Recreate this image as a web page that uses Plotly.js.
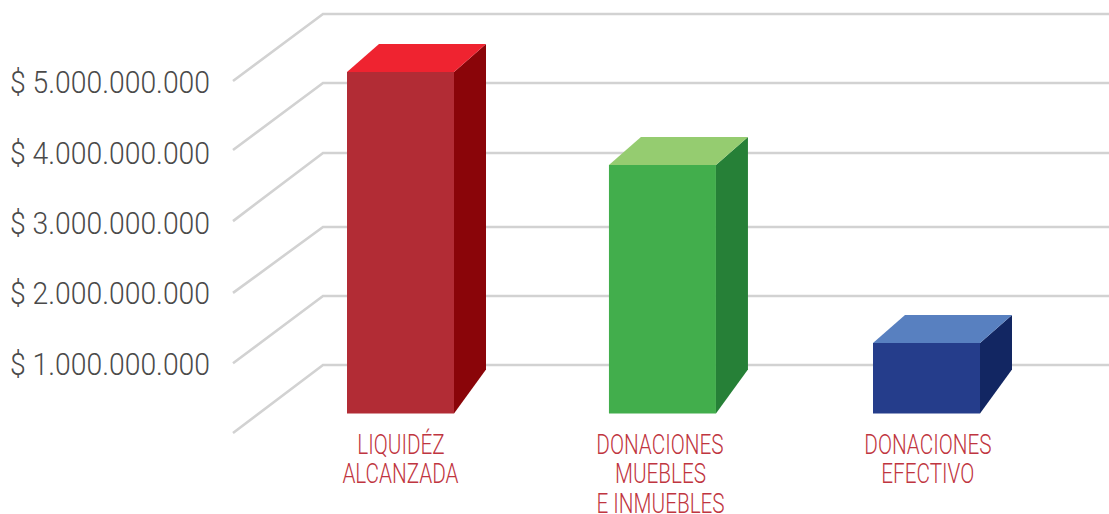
<!DOCTYPE html>
<html><head><meta charset="utf-8">
<script src="https://cdn.plot.ly/plotly-3.0.1.min.js"></script>
<style>html,body{margin:0;padding:0;background:#fff}#c{width:1109px;height:514px}</style>
</head><body><div id="c"></div>
<script>
var categoryLines = [["LIQUIDÉZ","ALCANZADA"],["DONACIONES","MUEBLES","E INMUEBLES"],["DONACIONES","EFECTIVO"]];
var barValues = [4.85e9, 3.53e9, 1.0e9];
var barPositions = [0, 0.996, 2];
var labelPositions = [0, 0.987, 2.006];
var tickValues = [1e9, 2e9, 3e9, 4e9, 5e9];
var tickLabels = ["$ 1.000.000.000","$ 2.000.000.000","$ 3.000.000.000","$ 4.000.000.000","$ 5.000.000.000"];
var gridFront = [0, 0.99e9, 1.99e9, 3.01e9, 4.02e9, 5.0e9];
var gridBack  = [0.966e9, 1.946e9, 2.926e9, 3.977e9, 4.972e9, 5.952e9];
var frontColors = ["#b22c35","#42ae4c","#253d8b"];
var sideColors  = ["#8a0509","#268037","#122662"];
var topColors   = ["#ef2330","#95cc70","#5880c0"];

var W=1109,H=514,L=211;
var PXX=263, X0=400.5, PXY=70.4/1e9, Y0=433;
var xr=[(L-X0)/PXX,(W-X0)/PXX], yr=[(Y0-H)/PXY,Y0/PXY];
var barW=107/PXX, depthX=32/PXX, depthTop=28/PXY, depthBase=44/PXY, base=19.6/PXY;
var gridDepth=90/PXX, gridLeft=(233-X0)/PXX;

var traces=[{type:'bar',x:barPositions,y:barValues,base:barValues.map(function(){return base}),width:barW,
  marker:{color:frontColors,line:{width:0}},hoverinfo:'skip',showlegend:false}];
barPositions.forEach(function(p,i){
  var r=p+barW/2,l=p-barW/2,t=base+barValues[i];
  traces.push({type:'scatter',mode:'lines',fill:'toself',fillcolor:sideColors[i],line:{width:0,color:sideColors[i]},
    x:[r,r+depthX,r+depthX,r,r],y:[base,base+depthBase,t+depthTop,t,base],hoverinfo:'skip',showlegend:false});
  traces.push({type:'scatter',mode:'lines',fill:'toself',fillcolor:topColors[i],line:{width:0,color:topColors[i]},
    x:[l,l+depthX,r+depthX,r,l],y:[t,t+depthTop,t+depthTop,t,t],hoverinfo:'skip',showlegend:false});
});
traces.push({type:'scatter',mode:'markers',cliponaxis:false,x:[(90-X0)/PXX,(91-X0)/PXX],y:[(Y0-13.5)/PXY,(Y0-35)/PXY],
  marker:{color:'#b32d36',size:6},hoverinfo:'skip',showlegend:false});

var shapes=gridFront.map(function(v,i){
  var xb=gridLeft+gridDepth;
  return {type:'path',xref:'x',yref:'y',layer:'below',line:{color:'#d2d2d2',width:2.6},
    path:'M '+gridLeft+','+v+' L '+xb+','+gridBack[i]+' L '+xr[1]+','+gridBack[i]};
});

var annotations=[];
var lineTop=444, lineStep=29.5;
var fontFamily='Roboto, "Liberation Sans", sans-serif';
categoryLines.forEach(function(lines,i){
  lines.forEach(function(s,j){
    annotations.push({xref:'x',yref:'y',x:labelPositions[i],y:(Y0-(lineTop+j*lineStep))/PXY,text:s,showarrow:false,
      xanchor:'center',yanchor:'middle',font:{family:fontFamily,weight:300,size:28,color:'#bf3540'}});
  });
});

Plotly.newPlot('c',traces,{
  width:W,height:H,margin:{l:L,r:0,t:0,b:0,pad:0},paper_bgcolor:'#fff',plot_bgcolor:'#fff',showlegend:false,
  xaxis:{range:xr,showgrid:false,zeroline:false,showticklabels:false,showline:false,ticks:''},
  yaxis:{range:yr,showgrid:false,zeroline:false,showline:false,ticks:'',tickmode:'array',tickvals:tickValues,ticktext:tickLabels,
    tickfont:{family:fontFamily,weight:300,size:32,color:'#4a4a4a'}},
  shapes:shapes,annotations:annotations
},{displayModeBar:false,staticPlot:true}).then(function(gd){
  // condensed look: squeeze the real text horizontally
  gd.querySelectorAll('.ytick text').forEach(function(t){
    t.setAttribute('lengthAdjust','spacingAndGlyphs');
    t.setAttribute('textLength','200');
    t.setAttribute('dy','1');
  });
  gd.querySelectorAll('.annotation-text').forEach(function(t){
    var n=t.getComputedTextLength();
    t.setAttribute('lengthAdjust','spacingAndGlyphs');
    t.setAttribute('textLength',String(n*0.74));
  });
});
</script></body></html>
